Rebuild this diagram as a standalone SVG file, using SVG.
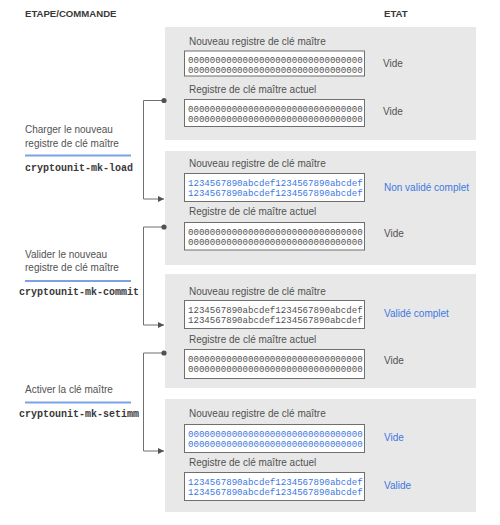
<svg xmlns="http://www.w3.org/2000/svg" width="500" height="525" viewBox="0 0 500 525">
<defs>
<style>
.hdr{font-family:"Liberation Sans",Arial,sans-serif;font-weight:bold;font-size:9.6px;fill:#393939}
.lbl{font-family:"Liberation Sans",Arial,sans-serif;font-size:10px;fill:#525252}
.st{font-family:"Liberation Sans",Arial,sans-serif;font-size:10px;fill:#525252}
.stb{font-family:"Liberation Sans",Arial,sans-serif;font-size:10px;fill:#3d78e0}
.cmd{font-family:"Liberation Mono","DejaVu Sans Mono",monospace;font-weight:bold;font-size:10px;fill:#393939;text-anchor:middle}
.mono{font-family:"Liberation Mono","DejaVu Sans Mono",monospace;font-size:9.1px;fill:#525252}
.monob{font-family:"Liberation Mono","DejaVu Sans Mono",monospace;font-size:9.1px;fill:#3d78e0}
.panel{fill:#e8e8e8}
.box{fill:#ffffff;stroke:#6f6f6f;stroke-width:1}
.rule{stroke:#7aa2e6;stroke-width:2}
.conn{fill:none;stroke:#6f6f6f;stroke-width:1}
.dot{fill:#525252}
</style>
<marker id="arr" viewBox="0 0 6 6" refX="6" refY="3" markerWidth="6" markerHeight="6" markerUnits="userSpaceOnUse" orient="auto">
<path d="M0,0 L6,3 L0,6 Z" fill="#525252"/>
</marker>
</defs>

<g id="headers">
<text class="hdr" x="25" y="16.5">ETAPE/COMMANDE</text>
<text class="hdr" x="384" y="16.5">ETAT</text>
</g>

<g id="step-load">
<text class="lbl" x="25" y="133">Charger le nouveau</text>
<text class="lbl" x="25" y="146.5">registre de clé maître</text>
<line class="rule" x1="25" y1="155.5" x2="131" y2="155.5"/>
<text class="cmd" x="79" y="171">cryptounit-mk-load</text>
</g>
<g id="step-commit">
<text class="lbl" x="25" y="258">Valider le nouveau</text>
<text class="lbl" x="25" y="271">registre de clé maître</text>
<line class="rule" x1="25" y1="281" x2="131" y2="281"/>
<text class="cmd" x="79" y="295">cryptounit-mk-commit</text>
</g>
<g id="step-setimm">
<text class="lbl" x="25" y="393">Activer la clé maître</text>
<line class="rule" x1="25" y1="402.5" x2="131" y2="402.5"/>
<text class="cmd" x="79" y="417">cryptounit-mk-setimm</text>
</g>

<g id="state-1">
<rect class="panel" x="165" y="27" width="311" height="113"/>
<text class="lbl" x="189" y="45">Nouveau registre de clé maître</text>
<rect class="box" x="184.5" y="51" width="180" height="25"/>
<text class="mono" x="188" y="62.5">00000000000000000000000000000000</text>
<text class="mono" x="188" y="72.5">00000000000000000000000000000000</text>
<text class="st" x="383" y="67">Vide</text>
<text class="lbl" x="189" y="93">Registre de clé maître actuel</text>
<rect class="box" x="184.5" y="99.5" width="180" height="27"/>
<text class="mono" x="188" y="111.5">00000000000000000000000000000000</text>
<text class="mono" x="188" y="121.5">00000000000000000000000000000000</text>
<text class="st" x="383" y="115">Vide</text>
</g>

<g id="state-2">
<rect class="panel" x="165" y="151" width="311" height="114"/>
<text class="lbl" x="189" y="167">Nouveau registre de clé maître</text>
<rect class="box" x="184.5" y="173.5" width="180" height="28"/>
<text class="monob" x="188" y="186">1234567890abcdef1234567890abcdef</text>
<text class="monob" x="188" y="196">1234567890abcdef1234567890abcdef</text>
<text class="stb" x="384" y="191">Non validé complet</text>
<text class="lbl" x="189" y="215">Registre de clé maître actuel</text>
<rect class="box" x="184.5" y="222.5" width="180" height="27.5"/>
<text class="mono" x="188" y="234.5">00000000000000000000000000000000</text>
<text class="mono" x="188" y="244.5">00000000000000000000000000000000</text>
<text class="st" x="384" y="237">Vide</text>
</g>

<g id="state-3">
<rect class="panel" x="165" y="274" width="311" height="114"/>
<text class="lbl" x="189" y="295">Nouveau registre de clé maître</text>
<rect class="box" x="184.5" y="300.5" width="180" height="28"/>
<text class="mono" x="188" y="313">1234567890abcdef1234567890abcdef</text>
<text class="mono" x="188" y="323">1234567890abcdef1234567890abcdef</text>
<text class="stb" x="384" y="317">Validé complet</text>
<text class="lbl" x="189" y="343">Registre de clé maître actuel</text>
<rect class="box" x="184.5" y="349.5" width="180" height="29"/>
<text class="mono" x="188" y="362">00000000000000000000000000000000</text>
<text class="mono" x="188" y="372">00000000000000000000000000000000</text>
<text class="st" x="384" y="364">Vide</text>
</g>

<g id="state-4">
<rect class="panel" x="165" y="399" width="311" height="113"/>
<text class="lbl" x="189" y="417">Nouveau registre de clé maître</text>
<rect class="box" x="184.5" y="424.5" width="180" height="28"/>
<text class="monob" x="188" y="437">00000000000000000000000000000000</text>
<text class="monob" x="188" y="447">00000000000000000000000000000000</text>
<text class="stb" x="384" y="441">Vide</text>
<text class="lbl" x="189" y="466">Registre de clé maître actuel</text>
<rect class="box" x="184.5" y="472.5" width="180" height="28"/>
<text class="monob" x="188" y="485">1234567890abcdef1234567890abcdef</text>
<text class="monob" x="188" y="495">1234567890abcdef1234567890abcdef</text>
<text class="stb" x="384" y="488.5">Valide</text>
</g>

<g id="connectors">
<path class="conn" d="M164,100.5 H143.5 V199 H164" marker-end="url(#arr)"/>
<circle class="dot" cx="164" cy="100.5" r="2.6"/>
<path class="conn" d="M164,227 H143.5 V325 H164" marker-end="url(#arr)"/>
<circle class="dot" cx="164" cy="227" r="2.6"/>
<path class="conn" d="M164,353 H143.5 V451 H164" marker-end="url(#arr)"/>
<circle class="dot" cx="164" cy="353" r="2.6"/>
</g>
</svg>
